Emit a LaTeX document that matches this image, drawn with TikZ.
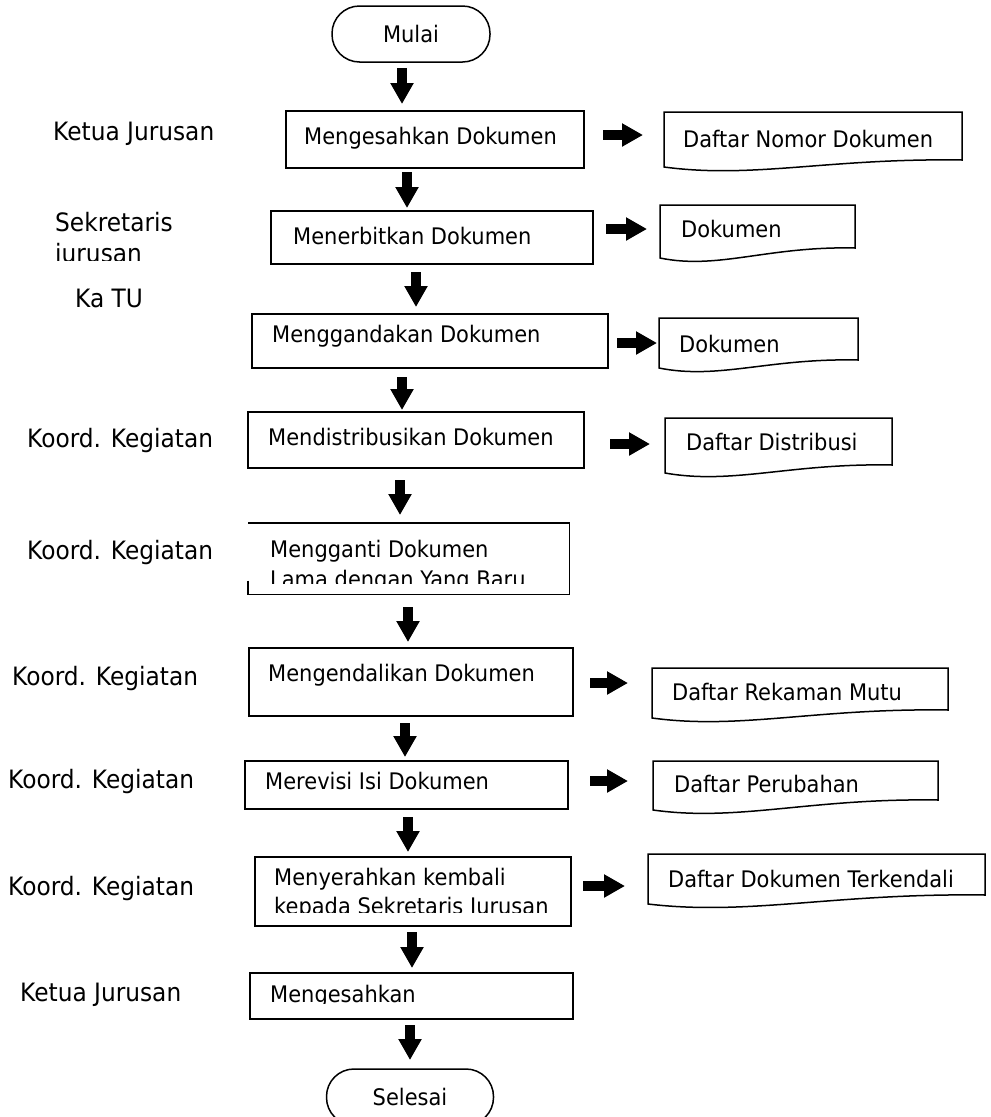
\documentclass[tikz,border=0pt]{standalone}
\usepackage{fontspec}
\setmainfont{DejaVu Sans}
\newfontfamily\narrowfont[FakeStretch=0.92]{DejaVu Sans}
\usetikzlibrary{arrows.meta}
\newcommand{\boxfont}{\narrowfont\fontsize{22.8}{28}\selectfont}
\newcommand{\labfont}{\narrowfont\fontsize{25.3}{30}\selectfont}
% document shape: xl xr ytop yright-bottom yleft-bottom
\newcommand{\docshape}[5]{%
  \draw[ln] (#1,#5) -- (#1,#3) -- (#2,#3) -- (#2,#4)
    .. controls ({#1+0.55*(#2-#1)},{#4-2}) and ({#1+0.3*(#2-#1)},{#5+12}) .. (#1,#5) -- cycle;}
\begin{document}
\begin{tikzpicture}[x=1pt,y=-1pt,
  ln/.style={line width=1.5pt},
  box/.style={draw, ln, rectangle, anchor=north west, inner sep=0pt},
  term/.style={draw, ln, rectangle, rounded corners=27.5pt, inner sep=0pt, font=\boxfont},
  txt/.style={anchor=base west, inner sep=0pt, font=\boxfont},
  lbl/.style={anchor=base west, inner sep=0pt, font=\labfont},
  arr/.style={line width=10pt, -{Triangle[width=22pt,length=21pt]}},
]
\useasboundingbox (0,0) rectangle (991,1117);
\clip (0,0) rectangle (991,1117);

% terminals
\node[term, minimum width=158pt, minimum height=56pt] (mulai) at (411,34) {Mulai};
\node[term, minimum width=167pt, minimum height=56pt] (selesai) at (410,1097) {Selesai};

% process boxes
\node[box, minimum width=298pt, minimum height=57pt] (b1) at (285,110) {};
\node[box, minimum width=322pt, minimum height=53pt] (b2) at (270,210) {};
\node[box, minimum width=356pt, minimum height=54pt] (b3) at (251,313) {};
\node[box, minimum width=336pt, minimum height=56pt] (b4) at (247,411) {};
\node[box, draw=none, minimum width=320pt, minimum height=70pt] (b5) at (248,523) {};
\draw[ln] ([yshift=14pt]b5.south west) -- (b5.south west) -- (b5.south east) -- (b5.north east) -- (b5.north west);
\node[box, minimum width=324pt, minimum height=68pt] (b6) at (248,647) {};
\node[box, minimum width=323pt, minimum height=48pt] (b7) at (244,760) {};
\node[box, minimum width=316pt, minimum height=69pt] (b8) at (254,856) {};
\node[box, minimum width=323pt, minimum height=46pt] (b9) at (249,972) {};

% box texts
\node[txt] (t1) at (304,144) {Mengesahkan Dokumen};
\node[txt] (t2) at (293,244) {Menerbitkan Dokumen};
\node[txt] (t3) at (272,342) {Menggandakan Dokumen};
\node[txt] (t4) at (268,445) {Mendistribusikan Dokumen};
\node[txt] (t5a) at (270,557) {Mengganti Dokumen};
\begin{scope}
  \clip (240,560) rectangle (580,583);
  \node[txt] (t5b) at (270,587) {Lama dengan Yang Baru};
\end{scope}
\node[txt] (t6) at (268,681) {Mengendalikan Dokumen};
\node[txt] (t7) at (265,789) {Merevisi Isi Dokumen};
\node[txt] (t8a) at (274,885) {Menyerahkan kembali};
\begin{scope}
  \clip (240,888) rectangle (580,912);
  \node[txt] (t8b) at (274,914) {kepada Sekretaris Jurusan};
\end{scope}
\begin{scope}
  \clip (240,975) rectangle (580,1003);
  \node[txt] (t9) at (270,1002) {Mengesahkan};
\end{scope}

% left labels
\node[lbl] (l1) at (53,140) {Ketua Jurusan};
\node[lbl] (l2a) at (55,231) {Sekretaris};
\begin{scope}
  \clip (0,236) rectangle (240,260);
  \node[lbl] (l2b) at (55,262) {jurusan};
\end{scope}
\node[lbl] (l3) at (75,307) {Ka TU};
\node[lbl] (l4) at (27,447) {Koord. Kegiatan};
\node[lbl] (l5) at (27,559) {Koord. Kegiatan};
\node[lbl] (l6) at (12,685) {Koord. Kegiatan};
\node[lbl] (l7) at (8,788) {Koord. Kegiatan};
\node[lbl] (l8) at (8,895) {Koord. Kegiatan};
\node[lbl] (l9) at (20,1001) {Ketua Jurusan};

% documents
\node[txt] (d1) at (683,147) {Daftar Nomor Dokumen};
\docshape{664}{962}{112}{160}{167}
\node[txt] (d2) at (681,237) {Dokumen};
\docshape{660}{855}{205}{248}{258}
\node[txt] (d3) at (679,352) {Dokumen};
\docshape{659}{858}{318}{360}{368}
\node[txt] (d4) at (686,450) {Daftar Distribusi};
\docshape{665}{892}{418}{465}{473}
\node[txt] (d5) at (672,700) {Daftar Rekaman Mutu};
\docshape{652}{948}{668}{710}{718}
\node[txt] (d6) at (674,792) {Daftar Perubahan};
\docshape{653}{938}{761}{800}{810}
\node[txt] (d7) at (668,887) {Daftar Dokumen Terkendali};
\docshape{648}{985}{854}{895}{904}

% vertical arrows
\coordinate (a1s) at (402,68);   \coordinate (a1e) at (402,104);
\coordinate (a2s) at (407,172);  \coordinate (a2e) at (407,208);
\coordinate (a3s) at (416,272);  \coordinate (a3e) at (416,307);
\coordinate (a4s) at (402,377);  \coordinate (a4e) at (402,410);
\coordinate (a5s) at (400,480);  \coordinate (a5e) at (400,515);
\coordinate (a6s) at (408,607);  \coordinate (a6e) at (408,642);
\coordinate (a7s) at (405,723);  \coordinate (a7e) at (405,757);
\coordinate (a8s) at (408,817);  \coordinate (a8e) at (408,852);
\coordinate (a9s) at (412,932);  \coordinate (a9e) at (412,968);
\coordinate (a10s) at (410,1025); \coordinate (a10e) at (410,1060);
\foreach \i in {1,...,10} \draw[arr] (a\i s) -- (a\i e);

% horizontal arrows
\coordinate (r1s) at (603,135); \coordinate (r1e) at (643,135);
\coordinate (r2s) at (606,229); \coordinate (r2e) at (647,229);
\coordinate (r3s) at (617,343); \coordinate (r3e) at (657,343);
\coordinate (r4s) at (610,444); \coordinate (r4e) at (650,444);
\coordinate (r5s) at (590,683); \coordinate (r5e) at (628,683);
\coordinate (r6s) at (590,781); \coordinate (r6e) at (628,781);
\coordinate (r7s) at (583,886); \coordinate (r7e) at (625,886);
\foreach \i in {1,...,7} \draw[arr] (r\i s) -- (r\i e);
\end{tikzpicture}
\end{document}
